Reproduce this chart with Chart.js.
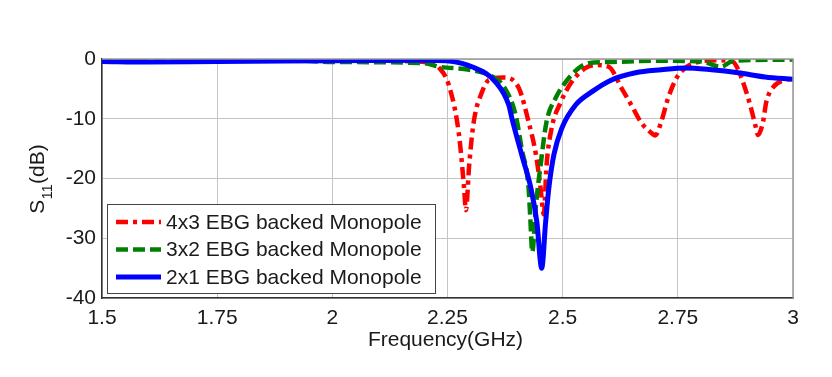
<!DOCTYPE html>
<html>
<head>
<meta charset="utf-8">
<script src="https://cdn.jsdelivr.net/npm/chart.js@4.4.0/dist/chart.umd.min.js"></script>
<style>
html,body{margin:0;padding:0;background:#fff;}
#wrap{width:832px;height:377px;position:relative;}
</style>
</head>
<body>
<div id="wrap"><canvas id="c" width="832" height="377"></canvas></div>
<script>
// ---- data ----
const seriesLabels = ['4x3 EBG backed Monopole', '3x2 EBG backed Monopole', '2x1 EBG backed Monopole'];
const xTickValues = [1.5, 1.75, 2, 2.25, 2.5, 2.75, 3];
const xTickLabels = ['1.5', '1.75', '2', '2.25', '2.5', '2.75', '3'];
const yTickValues = [-40, -30, -20, -10, 0];
const yTickLabels = ['-40', '-30', '-20', '-10', '0'];

const redFreq = [1.5, 1.75, 2.0, 2.1, 2.2, 2.232, 2.253, 2.275, 2.286, 2.290, 2.297, 2.307, 2.325, 2.340, 2.372, 2.405, 2.426, 2.442, 2.452, 2.459, 2.465, 2.476, 2.496, 2.519, 2.550, 2.571, 2.600, 2.628, 2.649, 2.671, 2.693, 2.701, 2.714, 2.729, 2.747, 2.766, 2.794, 2.838, 2.870, 2.881, 2.896, 2.907, 2.918, 2.924, 2.935, 2.942, 2.957, 2.983, 3.0];
const redS11 = [-0.3, -0.3, -0.3, -0.3, -0.5, -1.5, -4.4, -12.7, -21.6, -25.3, -17.8, -10.5, -5.5, -3.5, -3.1, -4.9, -10.5, -16.0, -21.6, -26.0, -17.8, -11.6, -7.2, -3.9, -1.5, -1.0, -1.3, -4.9, -7.7, -10.7, -12.4, -12.8, -10.5, -6.5, -3.2, -1.5, -0.5, -0.2, -0.5, -1.8, -4.9, -7.7, -11.0, -12.7, -10.5, -7.2, -4.7, -3.5, -3.3];

const greenFreq = [1.5, 1.9, 2.0, 2.2, 2.232, 2.297, 2.349, 2.372, 2.398, 2.411, 2.426, 2.430, 2.434, 2.442, 2.452, 2.465, 2.485, 2.506, 2.535, 2.556, 2.606, 2.7, 2.8, 2.844, 2.87, 3.0];
const greenS11 = [-0.2, -0.2, -0.5, -0.7, -1.3, -1.8, -3.0, -4.6, -9.4, -15.0, -21.6, -27.0, -32.3, -24.5, -17.8, -10.5, -6.5, -3.9, -1.5, -0.7, -0.5, -0.3, -0.4, -1.3, -0.3, -0.1];

const blueFreq = [1.5, 1.6, 1.75, 2.0, 2.2, 2.247, 2.303, 2.355, 2.383, 2.390, 2.411, 2.431, 2.444, 2.4545, 2.463, 2.470, 2.481, 2.498, 2.528, 2.563, 2.606, 2.658, 2.714, 2.766, 2.823, 2.881, 2.939, 3.0];
const blueS11 = [-0.4, -0.5, -0.4, -0.3, -0.2, -0.3, -1.3, -3.9, -7.7, -10.0, -16.0, -21.6, -27.3, -35.0, -27.3, -21.6, -16.0, -11.6, -7.7, -5.5, -3.5, -2.3, -1.8, -1.5, -1.8, -2.3, -3.0, -3.4];

const toXY = (xs, ys) => xs.map((x, i) => ({x: x, y: ys[i]}));

const FONT = '"Liberation Sans", Arial, Helvetica, sans-serif';

const styles = [
  {color: '#ff0000', dash: [12, 5, 4, 5], width: 4.5, order: 2},
  {color: '#008000', dash: [12, 5], width: 4.5, order: 1},
  {color: '#0000ff', dash: [], width: 5, order: 0}
];

const frameLegendPlugin = {
  id: 'frameLegend',
  afterDatasetsDraw(chart) {
    const {ctx, chartArea: a} = chart;
    ctx.save();
    ctx.strokeStyle = '#999';
    ctx.lineWidth = 1.5;
    ctx.beginPath();
    ctx.moveTo(a.left, a.top); ctx.lineTo(a.right, a.top); ctx.lineTo(a.right, a.bottom);
    ctx.stroke();
    const lx = a.left + 5, ly = 204, lw = 328, lh = 89;
    ctx.fillStyle = '#fff';
    ctx.fillRect(lx, ly, lw, lh);
    ctx.strokeStyle = '#444';
    ctx.lineWidth = 1;
    ctx.strokeRect(lx + 0.5, ly + 0.5, lw, lh);
    ctx.font = '21px ' + FONT;
    ctx.textBaseline = 'middle';
    ctx.textAlign = 'left';
    chart.data.datasets.forEach((ds, i) => {
      const y = 222 + i * 27.5;
      ctx.strokeStyle = ds.borderColor;
      ctx.lineWidth = ds.borderWidth;
      ctx.setLineDash(ds.borderDash || []);
      ctx.beginPath();
      ctx.moveTo(lx + 9, y); ctx.lineTo(lx + 54, y);
      ctx.stroke();
      ctx.setLineDash([]);
      ctx.fillStyle = '#1a1a1a';
      ctx.fillText(ds.label, lx + 59, y + 1);
    });
    ctx.restore();
  },
  afterDraw(chart) {
    const {ctx, chartArea: a} = chart;
    ctx.save();
    ctx.fillStyle = '#1a1a1a';
    ctx.font = '21px ' + FONT;
    ctx.textAlign = 'center';
    ctx.textBaseline = 'middle';
    ctx.fillText('Frequency(GHz)', (a.left + a.right) / 2 - 2, 340);
    ctx.translate(38, 179);
    ctx.rotate(-Math.PI / 2);
    const big = '21px ' + FONT, small = '15px ' + FONT;
    ctx.font = big; const wS = ctx.measureText('S').width; const wP = ctx.measureText('(dB)').width;
    ctx.font = small; const w11 = ctx.measureText('11').width;
    let x0 = -(wS + w11 + wP) / 2;
    ctx.textAlign = 'left';
    ctx.font = big; ctx.fillText('S', x0, 0);
    ctx.font = small; ctx.fillText('11', x0 + wS, 10);
    ctx.font = big; ctx.fillText('(dB)', x0 + wS + w11, 0);
    ctx.restore();
  }
};

const datasets = [
  toXY(redFreq, redS11), toXY(greenFreq, greenS11), toXY(blueFreq, blueS11)
].map((d, i) => ({
  label: seriesLabels[i],
  data: d,
  borderColor: styles[i].color,
  backgroundColor: styles[i].color,
  borderWidth: styles[i].width,
  borderDash: styles[i].dash,
  pointRadius: 0,
  fill: false,
  cubicInterpolationMode: 'monotone',
  order: styles[i].order
}));

new Chart(document.getElementById('c'), {
  type: 'line',
  data: {datasets},
  plugins: [frameLegendPlugin],
  options: {
    responsive: false,
    animation: false,
    events: [],
    layout: {padding: {left: 0, right: 39, top: 59, bottom: 0}},
    plugins: {legend: {display: false}, tooltip: {enabled: false}, title: {display: false}},
    scales: {
      x: {
        type: 'linear', min: 1.5, max: 3,
        afterBuildTicks(axis) { axis.ticks = xTickValues.map(v => ({value: v})); },
        afterFit(axis) { axis.height = 79; },
        ticks: {
          padding: 8, color: '#1a1a1a', font: {family: FONT, size: 21},
          maxRotation: 0, autoSkip: false,
          callback: (v) => { const i = xTickValues.indexOf(v); return i >= 0 ? xTickLabels[i] : ''; }
        },
        grid: {color: '#c4c4c4', lineWidth: 1, drawTicks: false},
        border: {color: '#333', width: 1.5}
      },
      y: {
        type: 'linear', min: -40, max: 0,
        afterBuildTicks(axis) { axis.ticks = yTickValues.map(v => ({value: v})); },
        afterFit(axis) { axis.width = 102; },
        ticks: {
          padding: 6, color: '#1a1a1a', font: {family: FONT, size: 21},
          callback: (v) => { const i = yTickValues.indexOf(v); return i >= 0 ? yTickLabels[i] : ''; }
        },
        grid: {color: '#c4c4c4', lineWidth: 1, drawTicks: false},
        border: {color: '#333', width: 1.5}
      }
    }
  }
});
</script>
</body>
</html>
